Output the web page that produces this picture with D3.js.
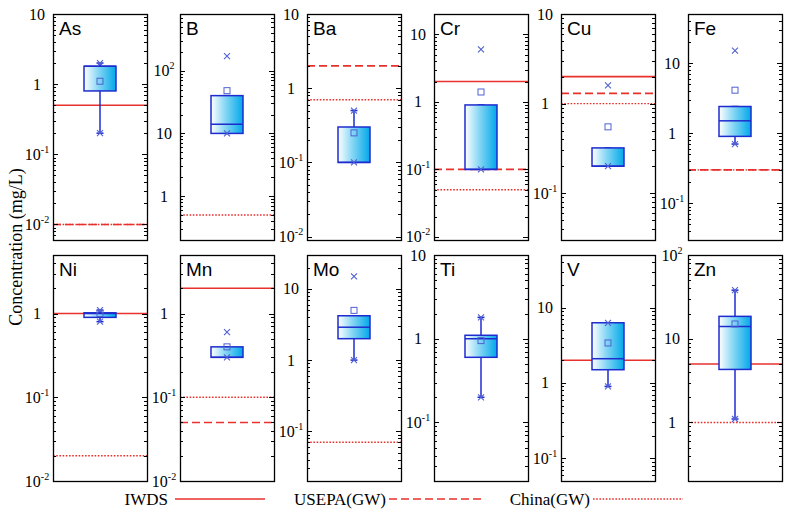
<!DOCTYPE html>
<html><head><meta charset="utf-8">
<script src="https://cdn.jsdelivr.net/npm/d3@7"></script>
<style>body{margin:0;background:#fff}svg{display:block}</style>
</head><body>
<svg id="chart" width="791" height="512"></svg>
<script>
const elements = ["As","B","Ba","Cr","Cu","Fe","Ni","Mn","Mo","Ti","V","Zn"];
const q1     = [0.8, 10, 0.1, 0.1, 0.2, 0.9, 0.9, 0.3, 2.0, 0.6, 1.5, 4.3];
const median = [1.8, 14, 0.1, 0.1, 0.2, 1.5, 1.0, 0.3, 2.9, 1.0, 2.1, 14];
const q3     = [1.8, 40, 0.3, 0.9, 0.32, 2.4, 1.02, 0.4, 4.2, 1.1, 6.3, 18.5];
const whisLo = [0.2, 10, 0.1, 0.1, 0.2, 0.7, 0.8, 0.3, 1.0, 0.2, 0.9, 1.1];
const whisHi = [2.0, 40, 0.5, 0.9, 0.32, 2.4, 1.1, 0.4, 4.2, 1.8, 6.3, 38];
const means  = [1.1, 48, 0.25, 1.4, 0.55, 4.1, 1.0, 0.4, 5.0, 0.95, 3.4, 15];
const mins   = [0.2, 10, 0.1, 0.1, 0.2, 0.7, 0.8, 0.3, 1.0, 0.2, 0.9, 1.1];
const maxs   = [2.0, 170, 0.5, 6.0, 1.6, 15, 1.1, 0.6, 15, 1.8, 6.3, 38];
const iwds   = [0.5, null, null, 2, 2, null, 1, 2, null, null, 2, 5];
const usepa  = [0.01, null, 2, 0.1, 1.3, 0.3, null, 0.05, null, null, null, null];
const china  = [0.01, 0.5, 0.7, 0.05, 1, 0.3, 0.02, 0.1, 0.07, null, null, 1];
const yMin   = [0.006, 0.2, 0.009, 0.009, 0.03, 0.03, 0.01, 0.01, 0.02, 0.02, 0.05, 0.2];
const yMax   = [10, 800, 10, 20, 10, 50, 5, 5, 30, 10, 50, 100];
const legendLabels = ["IWDS","USEPA(GW)","China(GW)"];

const svg = d3.select("#chart");
const RED = "#e8302c", BLUE = "#1e2ccf", OUT = "#5060d4";
const serif = "'Liberation Serif','Times New Roman',serif";
const sans = "'Liberation Sans',Arial,sans-serif";

const defs = svg.append("defs");
const grad = defs.append("linearGradient").attr("id","boxgrad").attr("x1","0").attr("x2","1").attr("y1","0").attr("y2","0");
grad.append("stop").attr("offset","0").attr("stop-color","#ffffff");
grad.append("stop").attr("offset","0.45").attr("stop-color","#86d6f4");
grad.append("stop").attr("offset","1").attr("stop-color","#00a8ea");

const pw = 94, ph = 226;
const lineStyles = [
  {data: iwds, dash: null, w: 1.6},
  {data: usepa, dash: "8,4", w: 1.6},
  {data: china, dash: "1.6,1.6", w: 1.4}
];

elements.forEach((el, i) => {
  const c = i % 6, r = Math.floor(i / 6);
  const left = 53 + 127 * c, top = r ? 255 : 14;
  const g = svg.append("g");
  const y = d3.scaleLog().domain([yMin[i], yMax[i]]).range([top + ph, top]);
  const cx = left + pw / 2;

  g.append("clipPath").attr("id","clip"+i).append("rect").attr("x",left).attr("y",top).attr("width",pw).attr("height",ph);
  const inner = g.append("g").attr("clip-path","url(#clip"+i+")");

  // ticks
  y.ticks().forEach(t => {
    const e = Math.log10(t);
    const major = Math.abs(e - Math.round(e)) < 1e-9;
    const len = major ? 5 : 3;
    const yy = Math.round(y(t)) + 0.5;
    g.append("line").attr("x1",left).attr("x2",left+len).attr("y1",yy).attr("y2",yy).attr("stroke","#000").attr("stroke-width",1);
    g.append("line").attr("x1",left+pw-len).attr("x2",left+pw).attr("y1",yy).attr("y2",yy).attr("stroke","#000").attr("stroke-width",1);
    if (major) {
      const p = Math.round(e);
      const txt = g.append("text").attr("x", left - 16).attr("y", y(t) + 5.5)
        .attr("text-anchor","middle").attr("font-family",serif).attr("font-size",16).attr("fill","#000");
      if (p === 0) txt.text("1");
      else if (p === 1) txt.text("10");
      else {
        txt.append("tspan").text("10");
        txt.append("tspan").attr("dy",-7).attr("font-size",10).text(p < 0 ? "-" + (-p) : String(p));
      }
    }
  });

  // standard lines
  lineStyles.forEach(ls => {
    const v = ls.data[i];
    if (v == null) return;
    inner.append("line").attr("x1",left).attr("x2",left+pw).attr("y1",y(v)).attr("y2",y(v))
      .attr("stroke",RED).attr("stroke-width",ls.w).attr("stroke-dasharray",ls.dash);
  });

  // whiskers
  const bw = 32;
  inner.append("line").attr("x1",cx).attr("x2",cx).attr("y1",y(whisHi[i])).attr("y2",y(q3[i])).attr("stroke",BLUE).attr("stroke-width",1.5);
  inner.append("line").attr("x1",cx).attr("x2",cx).attr("y1",y(q1[i])).attr("y2",y(whisLo[i])).attr("stroke",BLUE).attr("stroke-width",1.5);
  [whisHi[i], whisLo[i]].forEach(v => {
    inner.append("line").attr("x1",cx-3.5).attr("x2",cx+3.5).attr("y1",y(v)).attr("y2",y(v)).attr("stroke",BLUE).attr("stroke-width",1.5);
  });

  // box
  inner.append("rect").attr("x",cx-bw/2).attr("y",y(q3[i])).attr("width",bw).attr("height",Math.max(1,y(q1[i])-y(q3[i])))
    .attr("fill","url(#boxgrad)").attr("stroke",BLUE).attr("stroke-width",1.5);
  inner.append("line").attr("x1",cx-bw/2).attr("x2",cx+bw/2).attr("y1",y(median[i])).attr("y2",y(median[i])).attr("stroke",BLUE).attr("stroke-width",1.5);

  // mean square
  inner.append("rect").attr("x",cx-3).attr("y",y(means[i])-3).attr("width",6).attr("height",6)
    .attr("fill","none").attr("stroke",OUT).attr("stroke-width",1);

  // min / max crosses
  [mins[i], maxs[i]].forEach(v => {
    const yy = y(v), s = 3;
    inner.append("path").attr("d",`M${cx-s},${yy-s}L${cx+s},${yy+s}M${cx-s},${yy+s}L${cx+s},${yy-s}`)
      .attr("stroke",OUT).attr("stroke-width",1.1).attr("fill","none");
  });

  // frame
  g.append("rect").attr("x",left+0.5).attr("y",top+0.5).attr("width",pw).attr("height",ph)
    .attr("fill","none").attr("stroke","#000").attr("stroke-width",1.3);

  // title
  g.append("text").attr("x",left+6).attr("y",top+21).attr("font-family",sans).attr("font-size",19).attr("fill","#000").text(el);
});

// y axis label
svg.append("text").attr("transform","translate(22,247) rotate(-90)").attr("text-anchor","middle")
  .attr("font-family",serif).attr("font-size",18).attr("fill","#000").text("Concentration (mg/L)");

// legend
const legendPos = [{tx:168, x1:175, x2:265}, {tx:386, x1:389, x2:482}, {tx:590, x1:593, x2:683}];
legendLabels.forEach((lab, k) => {
  const p = legendPos[k], ls = lineStyles[k];
  svg.append("text").attr("x",p.tx).attr("y",505).attr("text-anchor","end")
    .attr("font-family",serif).attr("font-size",17).attr("fill","#000").text(lab);
  svg.append("line").attr("x1",p.x1).attr("x2",p.x2).attr("y1",499).attr("y2",499)
    .attr("stroke",RED).attr("stroke-width",ls.w).attr("stroke-dasharray",ls.dash);
});
</script>
</body></html>
